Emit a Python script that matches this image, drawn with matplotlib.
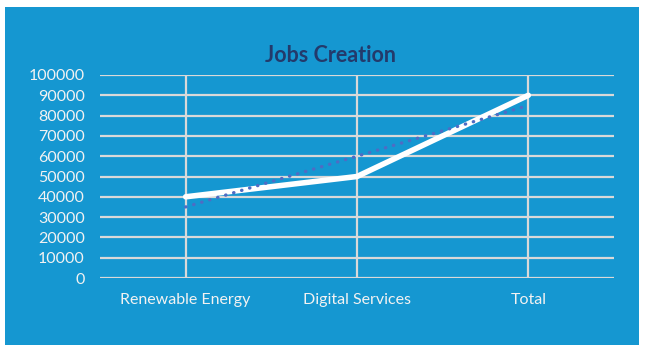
import matplotlib.pyplot as plt
import numpy as np
from matplotlib.patches import Rectangle

plt.rcParams['font.family'] = ['Lato', 'DejaVu Sans']

categories = ['Renewable Energy', 'Digital Services', 'Total']
jobs = [40000, 50000, 90000]
yticks = [0, 10000, 20000, 30000, 40000, 50000, 60000, 70000, 80000, 90000, 100000]

bg = '#1597d1'
grid = '#d9d9d9'

fig = plt.figure(figsize=(6.51, 3.49), dpi=100)
fig.patch.set_facecolor('white')
# blue panel, in pixel coords
fig.patches.append(Rectangle((5 / 651, 4 / 349), 634 / 651, 338 / 349,
                             transform=fig.transFigure, facecolor=bg,
                             edgecolor='none', zorder=-5))

ax = fig.add_axes([100 / 651, 71 / 349, 514 / 651, 203 / 349])
ax.set_facecolor('none')

x = np.arange(len(categories))
ax.plot(x, jobs, color='white', lw=4, solid_capstyle='round', zorder=3)

# linear trend line
k, b = np.polyfit(x, jobs, 1)
ax.plot(x, k * x + b, color='#4f6cc4', lw=2.4, linestyle=(0, (0.1, 2.4)),
        dash_capstyle='round', zorder=4)

ax.set_xlim(-0.5, 2.5)
ax.set_ylim(0, 100000)
ax.set_xticks(x)
ax.set_xticklabels(categories)
ax.set_yticks(yticks)
ax.set_yticklabels([str(v) for v in yticks])
ax.tick_params(length=0, colors='#f2f2f2', labelsize=11.5)
ax.tick_params(axis='y', pad=11)
ax.tick_params(axis='x', pad=11)

for v in yticks:
    ax.axhline(v, color=grid, lw=1.6, zorder=1)
for xi in x:
    ax.axvline(xi, color=grid, lw=1.6, zorder=1)
for s in ax.spines.values():
    s.set_visible(False)

fig.text(331 / 651, 1 - 56 / 349, 'Jobs Creation', ha='center', va='center',
         fontsize=15.5, fontweight='bold', color='#233a6b')

fig.savefig('out.png', dpi=100)
